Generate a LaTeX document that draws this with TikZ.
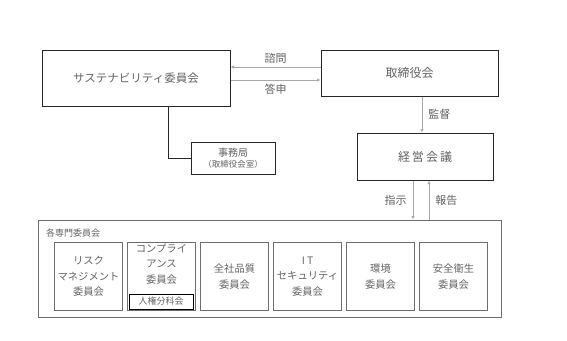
\documentclass[tikz,border=0pt]{standalone}
\usepackage{fontspec}
\setmainfont{Noto Sans CJK JP}
\usepackage{tikz}
\usetikzlibrary{arrows.meta}
\definecolor{txtgray}{HTML}{626262}
\definecolor{linegray}{HTML}{A8A8A8}
\definecolor{boxgray}{HTML}{6E6E6E}
\tikzset{
  mainbox/.style={draw=black!85,line width=1pt,text=txtgray,font=\fontsize{11.5}{13}\selectfont,align=center,inner sep=0pt},
  unitbox/.style={draw=boxgray,line width=1.3pt,text=txtgray,font=\fontsize{10.3}{15.5}\selectfont,align=center,inner sep=0pt,minimum width=68pt,minimum height=68pt},
  lbl/.style={text=txtgray,font=\fontsize{11}{12}\selectfont,inner sep=1pt},
  flow/.style={draw=linegray,line width=0.7pt,-{Latex[length=3.5pt,width=3.5pt]}}
}

\begin{document}
\begin{tikzpicture}[x=1pt,y=-1pt]
    \useasboundingbox (0,0) rectangle (567,340);
    \node[mainbox,minimum width=188pt,minimum height=56pt] (sus) at (136,78) {サステナビリティ委員会};
    \node[mainbox,minimum width=177pt,minimum height=46pt,font=\fontsize{12}{13}\selectfont] (board) at (409.5,73) {取締役会};
    \node[mainbox,minimum width=84pt,minimum height=32pt,font=\fontsize{10}{12}\selectfont] (jimu) at (233,158) {事務局\\[-1pt]{\fontsize{8.5}{10}\selectfont （取締役会室）}};
    \node[mainbox,minimum width=136pt,minimum height=47pt,font=\fontsize{12}{13}\selectfont] (keiei) at (425,156.5) {経\,営\,会\,議};
    \node[draw=boxgray,line width=0.9pt,minimum width=463pt,minimum height=97pt,inner sep=0pt] (frame) at (269.5,268.5) {};
    \node[lbl,anchor=west,font=\fontsize{9}{10}\selectfont] (framelbl) at (45,233) {各専門委員会};

    \node[unitbox] (risk) at (88.5,276.5) {リスク\\マネジメント\\委員会};
    \node[unitbox] (comp) at (161.5,276.5) {};
    \node[text=txtgray,font=\fontsize{10.3}{15.5}\selectfont,align=center] (comptxt) at (161.5,264) {コンプライ\\アンス\\委員会};
    \node[draw=black,line width=0.8pt,minimum width=64pt,minimum height=15pt,inner sep=0pt,text=txtgray,font=\fontsize{9}{10}\selectfont] (jinken) at (161,301.5) {人権分科会};
    \node[unitbox] (quality) at (234.5,276.5) {全社品質\\委員会};
    \node[unitbox] (itsec) at (307.5,276.5) {I T\\セキュリティ\\委員会};
    \node[unitbox] (env) at (380.5,276.5) {環境\\委員会};
    \node[unitbox] (safety) at (453.5,276.5) {安全衛生\\委員会};

    \coordinate (bend) at (168,158);
    \draw[black!85,line width=1pt] (sus.south -| bend) |- (jimu.west);

    \path
    ([yshift=6pt]board.west) edge[flow] node[lbl,above=2pt,pos=0.5] (shimon) {諮問} ([yshift=6pt]board.west -| sus.east)
    ([yshift=-2pt]sus.east) edge[flow] node[lbl,below=3pt,pos=0.5] (toshin) {答申} ([yshift=-2pt]sus.east -| board.west)
    (board.south -| 422,0) edge[flow] node[lbl,right=5pt,pos=0.5] (kantoku) {監督} (keiei.north -| 422,0)
    (keiei.south -| 413,0) edge[flow] node[lbl,left=5pt,pos=0.5] (shiji) {指示} (frame.north -| 413,0)
    (frame.north -| 429,0) edge[flow] node[lbl,right=5pt,pos=0.5] (hokoku) {報告} (keiei.south -| 429,0)
    ;
\end{tikzpicture}
\end{document}
